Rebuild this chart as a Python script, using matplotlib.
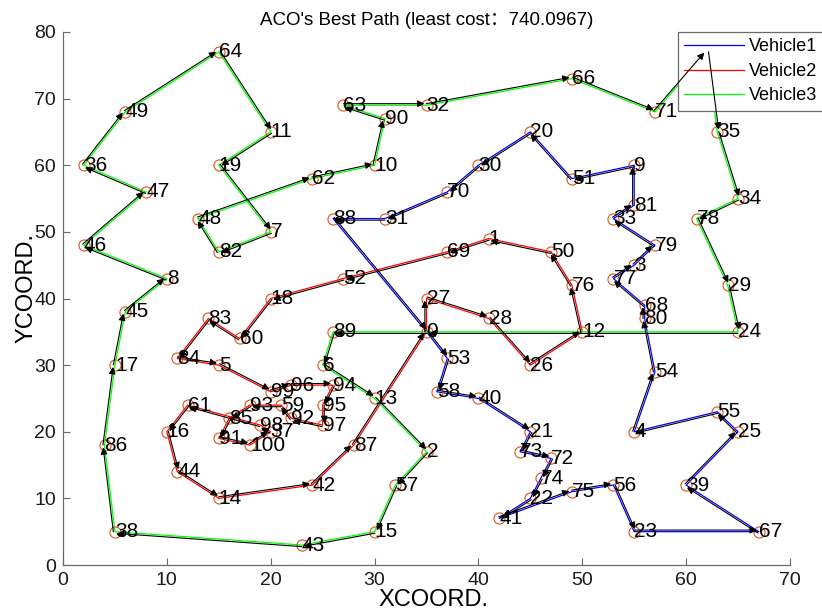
import matplotlib
matplotlib.use("Agg")
import matplotlib.pyplot as plt
import numpy as np

plt.rcParams["font.family"] = ["Liberation Sans", "Noto Sans CJK SC"]

# Solomon R101 node coordinates, index = node id (0 is the depot)
NODE_X = np.array([
    35, 41, 35, 55, 55, 15, 25, 20, 10, 55, 30, 20, 50, 30, 15, 30, 10, 5, 20, 15,
    45, 45, 45, 55, 65, 65, 45, 35, 41, 64, 40, 31, 35, 53, 65, 63, 2, 20, 5, 60,
    40, 42, 24, 23, 11, 6, 2, 8, 13, 6, 47, 49, 27, 37, 57, 63, 53, 32, 36, 21,
    17, 12, 24, 27, 15, 62, 49, 67, 56, 37, 37, 57, 47, 44, 46, 49, 49, 53, 61, 57,
    56, 55, 15, 14, 11, 16, 4, 28, 26, 26, 31, 15, 22, 18, 26, 25, 22, 25, 19, 20,
    18,
])
NODE_Y = np.array([
    35, 49, 17, 45, 20, 30, 30, 50, 43, 60, 60, 65, 35, 25, 10, 5, 20, 30, 40, 60,
    65, 20, 10, 5, 35, 20, 30, 40, 37, 42, 60, 52, 69, 52, 55, 65, 60, 20, 5, 12,
    25, 7, 12, 3, 14, 38, 48, 56, 52, 68, 47, 58, 43, 31, 29, 23, 12, 12, 26, 24,
    34, 24, 58, 69, 77, 77, 73, 5, 39, 47, 56, 68, 16, 17, 13, 11, 42, 43, 52, 48,
    37, 54, 47, 37, 31, 22, 18, 18, 52, 35, 67, 19, 22, 24, 27, 24, 27, 21, 21, 26,
    18,
])

ROUTE_1 = [0, 53, 58, 40, 21, 73, 72, 74, 22, 41, 75, 56, 23, 67, 39, 25, 55, 4,
           54, 80, 68, 77, 3, 79, 33, 81, 9, 51, 20, 30, 70, 31, 88, 0]
ROUTE_2 = [0, 27, 28, 26, 12, 76, 50, 1, 69, 52, 18, 60, 83, 84, 5, 99, 96, 94,
           95, 97, 92, 59, 93, 85, 91, 100, 37, 98, 61, 16, 44, 14, 42, 87, 0]
ROUTE_3 = [0, 89, 6, 13, 2, 57, 15, 43, 38, 86, 17, 45, 8, 46, 47, 36, 49, 64,
           11, 19, 7, 82, 48, 62, 10, 90, 63, 32, 66, 71, 65, 35, 34, 78, 29, 24, 0]
ROUTES = [ROUTE_1, ROUTE_2, ROUTE_3]
ROUTE_NAMES = ["Vehicle1", "Vehicle2", "Vehicle3"]
ROUTE_COLORS = ["#0000ff", "#ff0000", "#00ff00"]
BEST_COST = 740.0967

AXIS_GRAY = "#6a6a6a"


def draw_arrows(ax, route, shift_px=1.6):
    # black direction arrows, nudged to the left of the travel direction
    pts = ax.transData.transform(np.column_stack([NODE_X[route], NODE_Y[route]]))
    inv = ax.transData.inverted()
    for a, b in zip(pts[:-1], pts[1:]):
        d = b - a
        n = np.array([-d[1], d[0]]) / np.hypot(d[0], d[1])
        start, end = inv.transform([a + n * shift_px, b + n * shift_px])
        ax.annotate(
            "", xy=end, xytext=start,
            arrowprops=dict(arrowstyle="-|>", color="black", lw=0.8,
                            mutation_scale=10, shrinkA=0, shrinkB=1.5),
            zorder=6,
        )


def main():
    fig = plt.figure(figsize=(8.22, 6.15), dpi=100)
    ax = fig.add_axes([63 / 822, 50 / 615, 727 / 822, 533 / 615])
    ax.set_xlim(0, 70)
    ax.set_ylim(0, 80)

    handles = []
    for route, name, color in zip(ROUTES, ROUTE_NAMES, ROUTE_COLORS):
        (h,) = ax.plot(NODE_X[route], NODE_Y[route], color=color, lw=0.9, label=name, zorder=2)
        handles.append(h)

    ax.plot(NODE_X, NODE_Y, "o", ms=8, mfc="none", mec="#D95319", mew=0.8, zorder=2.5)
    for i, (x, y) in enumerate(zip(NODE_X, NODE_Y)):
        ax.text(x, y, str(i), ha="left", va="center", fontsize=15, color="black", zorder=3)

    for route in ROUTES:
        draw_arrows(ax, route)

    ax.set_xticks(np.arange(0, 71, 10))
    ax.set_yticks(np.arange(0, 81, 10))
    ax.tick_params(direction="in", length=5, width=0.8, color=AXIS_GRAY,
                   labelsize=14, labelcolor="#1a1a1a", pad=5)
    for side in ("top", "right"):
        ax.spines[side].set_visible(False)
    for side in ("left", "bottom"):
        ax.spines[side].set_color(AXIS_GRAY)
        ax.spines[side].set_linewidth(0.9)

    ax.set_title(f"ACO's Best Path (least cost：{BEST_COST})", fontsize=13.5, pad=5)
    ax.set_xlabel("XCOORD.", fontsize=17, va="center")
    ax.set_ylabel("YCOORD.", fontsize=17, va="center")
    ax.xaxis.set_label_coords(0.51, -0.066)
    ax.yaxis.set_label_coords(-0.05, 0.52)

    leg = ax.legend(
        handles=handles, loc="upper left",
        bbox_to_anchor=(678 / 822, 583 / 615), bbox_transform=fig.transFigure,
        fontsize=13, handlelength=3.3, handletextpad=0.3, labelspacing=0.42,
        borderpad=0.35, borderaxespad=0, fancybox=False, framealpha=1,
        edgecolor=AXIS_GRAY,
    )
    leg.get_frame().set_linewidth(0.9)
    leg.set_zorder(5)

    fig.savefig("out.png", dpi=100)
    plt.close(fig)


if __name__ == "__main__":
    main()
